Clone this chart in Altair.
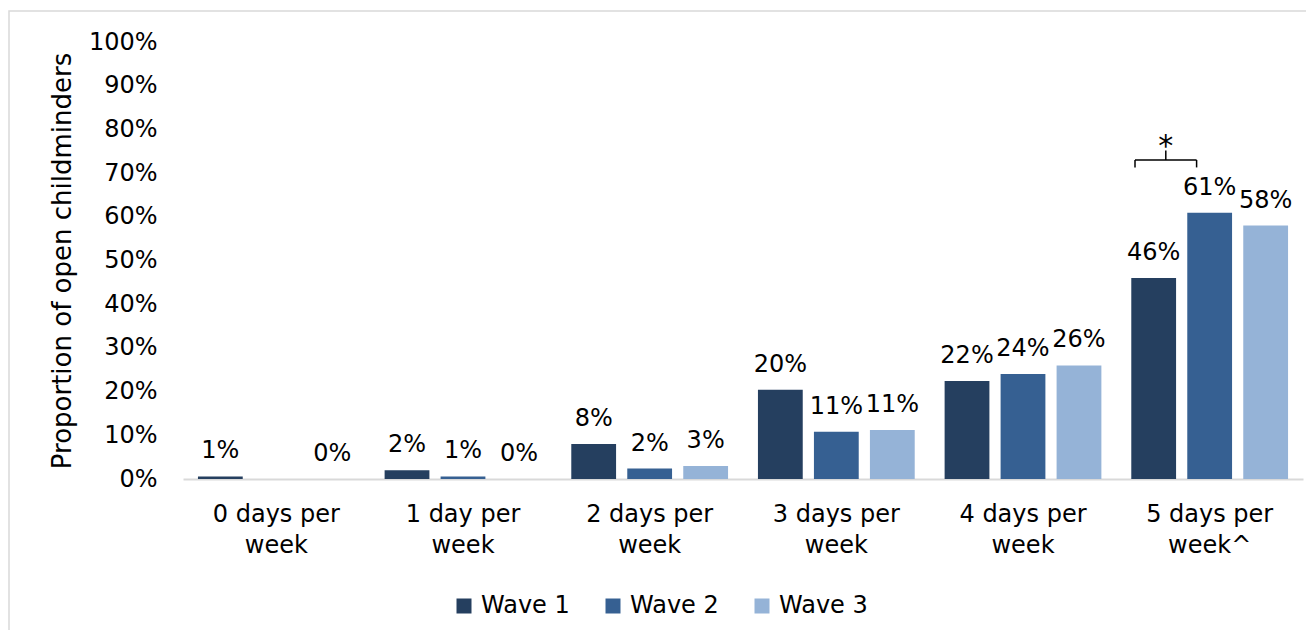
import altair as alt
import pandas as pd

# Days per week open, by survey wave (percent of open childminders)
CATEGORIES = [
    "0 days per week",
    "1 day per week",
    "2 days per week",
    "3 days per week",
    "4 days per week",
    "5 days per week^",
]
WAVES = ["Wave 1", "Wave 2", "Wave 3"]
WAVE_1 = [0.6, 2.0, 8.0, 20.4, 22.4, 46.0]
WAVE_2 = [None, 0.6, 2.4, 10.8, 24.0, 60.9]
WAVE_3 = [0.0, 0.0, 3.0, 11.2, 26.0, 58.0]
COLORS = ["#253F5F", "#366092", "#95B3D7"]
Y_TICKS = [0, 10, 20, 30, 40, 50, 60, 70, 80, 90, 100]

# Significance bracket between Wave 1 and Wave 2 in the last group
BRACKET_CATEGORY = "5 days per week^"
BRACKET_LEVEL = 73.0
BRACKET_END = 71.3
BRACKET_TIP = 75.2
STAR_LEVEL = 75.5

rows = []
for cat, v1, v2, v3 in zip(CATEGORIES, WAVE_1, WAVE_2, WAVE_3):
    for wave, v in zip(WAVES, (v1, v2, v3)):
        if v is not None:
            rows.append({"cat": cat, "wave": wave, "value": v})
df = pd.DataFrame(rows)

FONT = "DejaVu Sans"
x_enc = alt.X(
    "cat:N",
    sort=CATEGORIES,
    scale=alt.Scale(domain=CATEGORIES, paddingInner=0, paddingOuter=0),
    axis=alt.Axis(
        title=None,
        labelAngle=0,
        labelFontSize=24,
        labelFont=FONT,
        labelColor="#000000",
        labelLineHeight=31,
        labelPadding=23,
        ticks=False,
        domainColor="#d9d9d9",
        domainWidth=2,
        labelExpr="split(replace(datum.label, ' per ', ' per|'), '|')",
    ),
)
y_scale = alt.Scale(domain=[0, 100], nice=False)
xoff = alt.XOffset(
    "wave:N",
    scale=alt.Scale(domain=WAVES, paddingInner=0.2, paddingOuter=0.267),
)

bars = (
    alt.Chart(df)
    .mark_bar()
    .encode(
        x=x_enc,
        xOffset=xoff,
        y=alt.Y(
            "value:Q",
            scale=y_scale,
            axis=alt.Axis(
                title="Proportion of open childminders",
                titleFont=FONT,
                titleFontSize=26,
                titleFontWeight="normal",
                titleColor="#000000",
                titlePadding=13,
                values=Y_TICKS,
                labelExpr="datum.value + '%'",
                labelFont=FONT,
                labelFontSize=24,
                labelColor="#000000",
                labelPadding=26,
                ticks=False,
                domain=False,
                grid=False,
            ),
        ),
        color=alt.Color(
            "wave:N",
            scale=alt.Scale(domain=WAVES, range=COLORS),
            legend=alt.Legend(
                title=None,
                orient="none",
                direction="horizontal",
                legendX=269,
                legendY=552,
                symbolType="square",
                symbolSize=225,
                symbolStrokeWidth=0,
                labelFont=FONT,
                labelFontSize=24,
                labelColor="#000000",
                labelOffset=5,
                columnPadding=31,
            ),
        ),
    )
)

labels = (
    alt.Chart(df)
    .transform_calculate(label="format(datum.value, '.0f') + '%'")
    .mark_text(font=FONT, fontSize=24, color="#000000", baseline="alphabetic", dy=-18)
    .encode(x=x_enc, xOffset=xoff, y=alt.Y("value:Q", scale=y_scale), text="label:N")
)

ann = alt.Chart(pd.DataFrame({"cat": [BRACKET_CATEGORY]}))
rule_style = dict(color="#000000", strokeWidth=1.5)
b_left, b_mid, b_right = 0.10, 0.265, 0.43

bracket_h = ann.mark_rule(**rule_style).encode(
    x=alt.X("cat:N", bandPosition=b_left),
    x2=alt.X2("cat", bandPosition=b_right),
    y=alt.datum(BRACKET_LEVEL, scale=y_scale),
)
bracket_l = ann.mark_rule(**rule_style).encode(
    x=alt.X("cat:N", bandPosition=b_left),
    y=alt.datum(BRACKET_END),
    y2=alt.datum(BRACKET_LEVEL),
)
bracket_r = ann.mark_rule(**rule_style).encode(
    x=alt.X("cat:N", bandPosition=b_right),
    y=alt.datum(BRACKET_END),
    y2=alt.datum(BRACKET_LEVEL),
)
bracket_m = ann.mark_rule(**rule_style).encode(
    x=alt.X("cat:N", bandPosition=b_mid),
    y=alt.datum(BRACKET_LEVEL),
    y2=alt.datum(BRACKET_TIP),
)
star = ann.mark_text(
    text="*", font=FONT, fontSize=30, color="#000000", baseline="alphabetic", dy=7
).encode(x=alt.X("cat:N", bandPosition=b_mid), y=alt.datum(STAR_LEVEL))

# light outer frame around the whole figure
frame = (
    alt.Chart(pd.DataFrame({"f": [0]}))
    .mark_rect(fill=None, stroke="#d9d9d9", strokeWidth=1.5)
    .encode(
        x=alt.value(-174),
        x2=alt.value(1140),
        y=alt.value(-31),
        y2=alt.value(600),
    )
)

chart = (
    alt.layer(frame, bars, labels, bracket_h, bracket_l, bracket_r, bracket_m, star)
    .properties(
        width=1120,
        height=437,
        autosize=alt.AutoSizeParams(type="none"),
        padding={"left": 183, "top": 42, "right": 3, "bottom": 151},
        background="white",
    )
    .configure_view(stroke=None)
)

chart.save("out.html", embed_options={"renderer": "svg", "actions": False})
